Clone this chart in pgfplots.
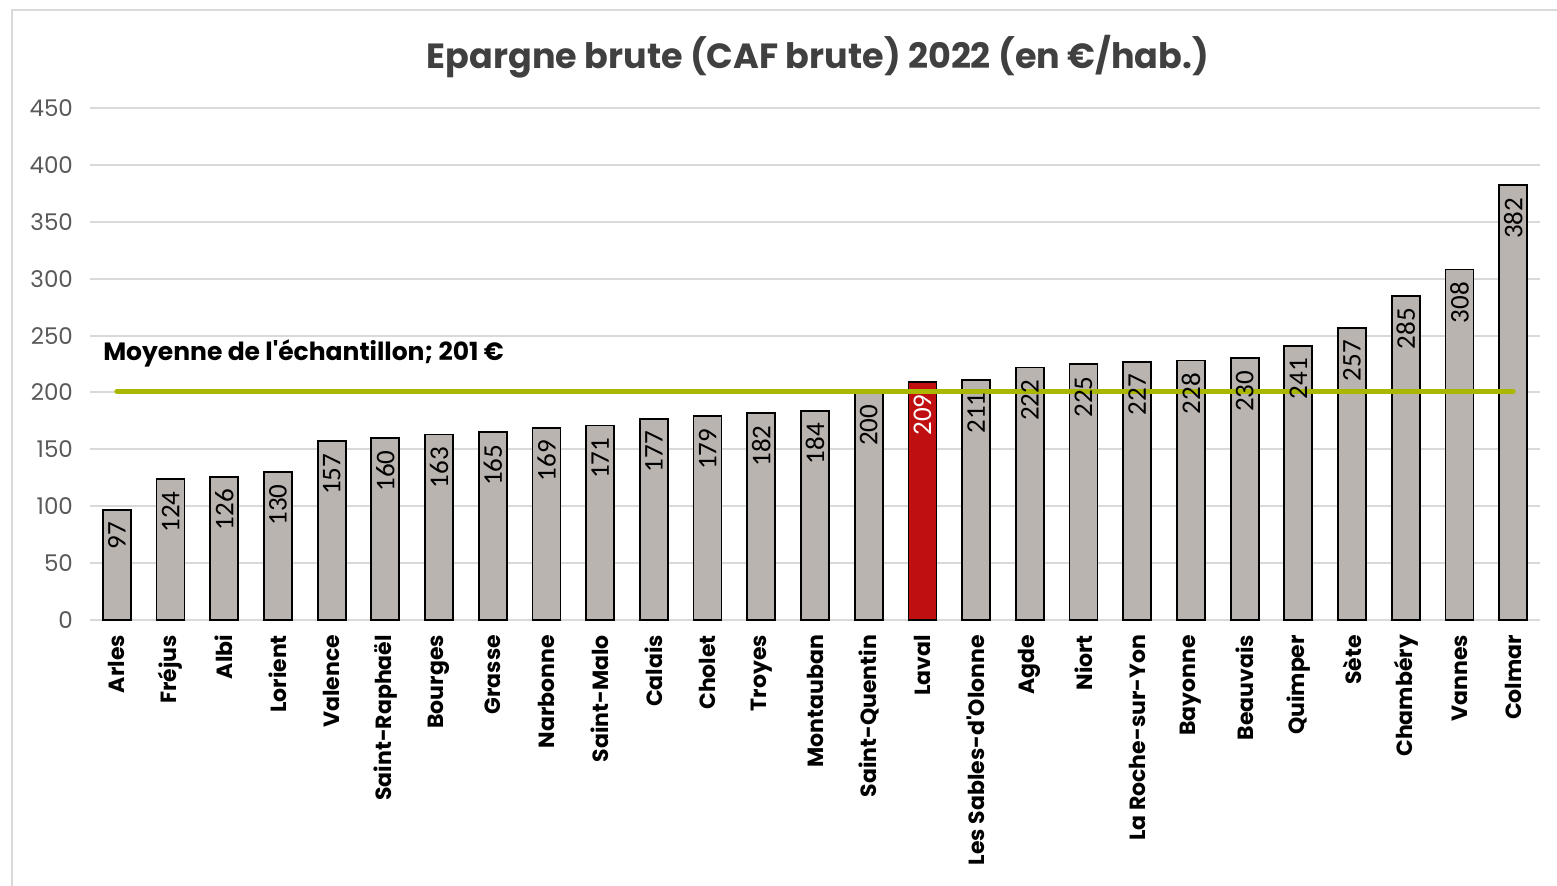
\documentclass[border=0pt]{standalone}
\usepackage{pgfplots}
\pgfplotsset{compat=1.18}
\usepackage{fontspec}
\setmainfont{Poppins}[Ligatures=TeXOff]
\newfontfamily\labfont{Carlito}
\definecolor{bargrey}{HTML}{BAB4B1}
\definecolor{barred}{HTML}{C00F10}
\definecolor{olive}{HTML}{A9B700}
\definecolor{gridc}{HTML}{D9D9D9}
\definecolor{tickc}{HTML}{595959}
\definecolor{titlec}{HTML}{404040}
\begin{document}
\begin{tikzpicture}
\useasboundingbox (-45pt,-132.5pt) rectangle (733.5pt,310pt);
\draw[gridc, line width=1pt] (-39pt,-140pt) -- (-39pt,305pt) -- (740pt,305pt);
\begin{axis}[
  at={(0,0)}, anchor=south west,
  scale only axis, width=725pt, height=256pt,
  xmin=-0.5, xmax=26.5, ymin=0, ymax=450,
  axis line style={draw=none},
  ytick={0,50,...,450},
  ymajorgrids, grid style={gridc, line width=1pt},
  major tick length=0pt,
  xtick={0,...,26},
  xticklabels={Arles,Fréjus,Albi,Lorient,Valence,Saint-Raphaël,Bourges,Grasse,Narbonne,Saint-Malo,Calais,Cholet,Troyes,Montauban,Saint-Quentin,Laval,{Les Sables-d'Olonne},Agde,Niort,La Roche-sur-Yon,Bayonne,Beauvais,Quimper,Sète,Chambéry,Vannes,Colmar},
  xticklabel style={rotate=90, anchor=east, font=\fontsize{11}{13}\selectfont\bfseries, text=black, xshift=-4pt},
  yticklabel style={font=\fontsize{11.5}{13}\selectfont, text=tickc, xshift=-5pt},
  /pgf/number format/assume math mode=true,
  clip=false,
]
\draw[gridc, line width=1pt] (axis cs:-0.5,0) -- (axis cs:26.5,0);
\addplot[ybar, bar width=14pt, bar shift=0pt, fill=bargrey, draw=black, line width=0.9pt] coordinates {
(0,97) (1,124) (2,126) (3,130) (4,157) (5,160) (6,163) (7,165) (8,169) (9,171) (10,177) (11,179) (12,182) (13,184) (14,200) (16,211) (17,222) (18,225) (19,227) (20,228) (21,230) (22,241) (23,257) (24,285) (25,308) (26,382)};
\addplot[ybar, bar width=14pt, bar shift=0pt, fill=barred, draw=black, line width=0.9pt] coordinates {(15,209)};
\addplot[olive, line width=2.5pt, line cap=round] coordinates {(0,201) (26,201)};
\addplot[ybar, bar width=14pt, bar shift=0pt, draw=none, fill=none,
  nodes near coords, every node near coord/.append style={rotate=90, anchor=east, font=\labfont\fontsize{13.5}{15}\selectfont, text=black, inner xsep=6pt, inner ysep=2pt}] coordinates {
(0,97) (1,124) (2,126) (3,130) (4,157) (5,160) (6,163) (7,165) (8,169) (9,171) (10,177) (11,179) (12,182) (13,184) (14,200) (16,211) (17,222) (18,225) (19,227) (20,228) (21,230) (22,241) (23,257) (24,285) (25,308) (26,382)};
\addplot[ybar, bar width=14pt, bar shift=0pt, draw=none, fill=none,
  nodes near coords, every node near coord/.append style={rotate=90, anchor=east, font=\labfont\fontsize{13.5}{15}\selectfont, text=white, inner xsep=6pt, inner ysep=2pt}] coordinates {(15,209)};
\node[anchor=west, font=\fontsize{12.5}{14}\selectfont\bfseries, inner sep=0pt] at (axis cs:-0.26,234) {Moyenne de l'échantillon; 201 €};
\end{axis}
\node[font=\fontsize{17.5}{21}\selectfont\bfseries, text=titlec] at (364pt,281.5pt) {Epargne brute (CAF brute) 2022 (en €/hab.)};
\end{tikzpicture}
\end{document}
